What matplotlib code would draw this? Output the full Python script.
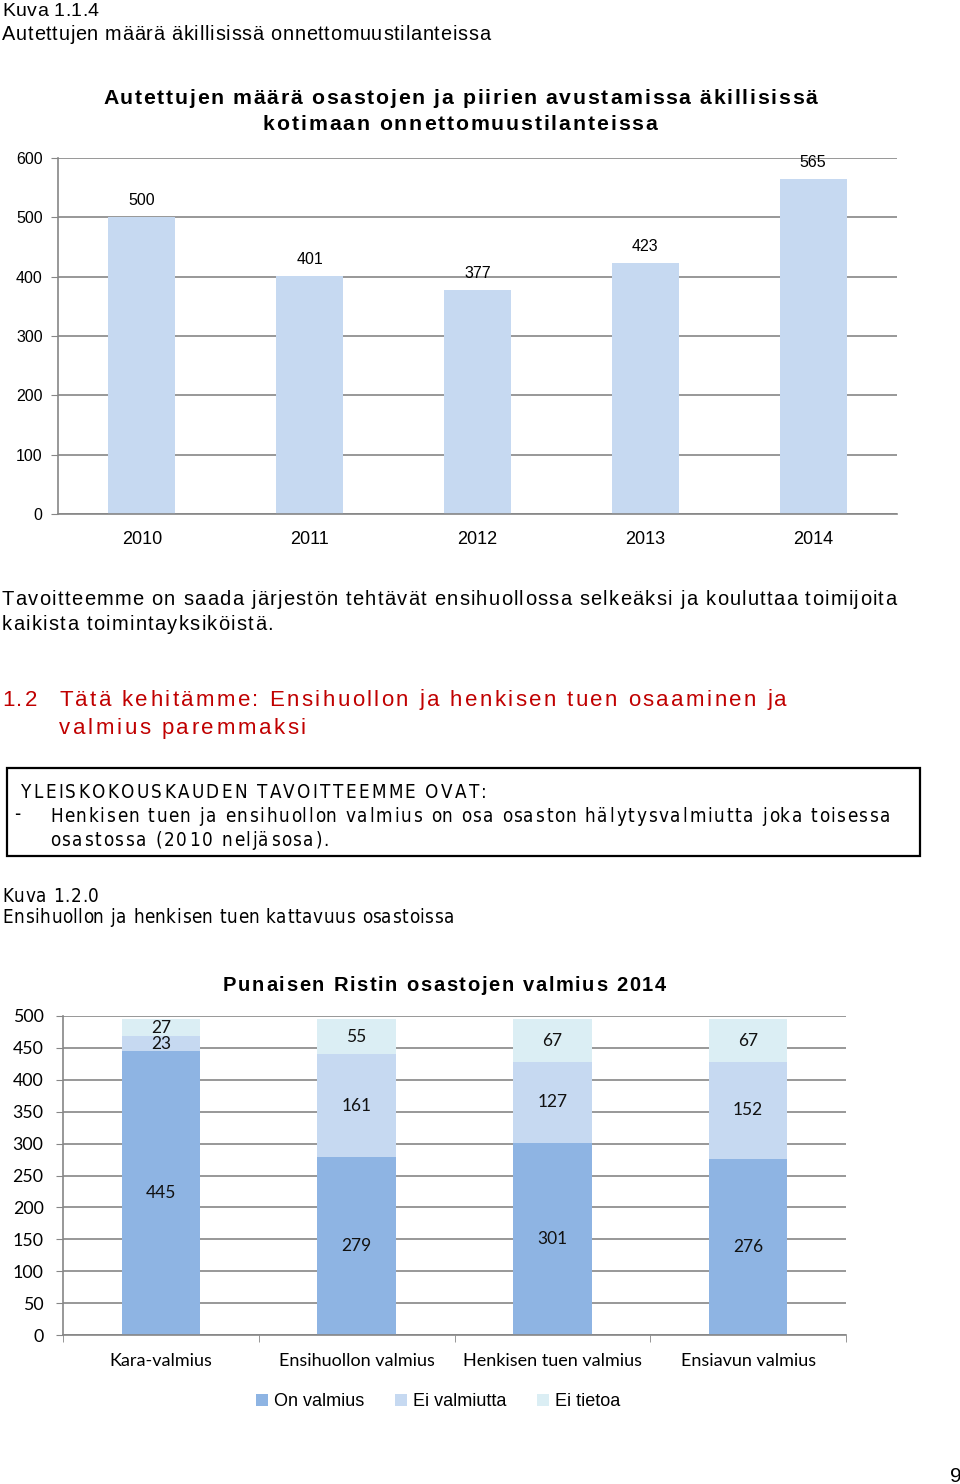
import matplotlib
matplotlib.use('Agg')
import matplotlib.pyplot as plt
from matplotlib.patches import Rectangle
from matplotlib.font_manager import FontProperties, findfont
import numpy as np

# ---------------- data ----------------
years = ['2010', '2011', '2012', '2013', '2014']
helped = [500, 401, 377, 423, 565]

categories = ['Kara-valmius', 'Ensihuollon valmius', 'Henkisen tuen valmius', 'Ensiavun valmius']
on_valmius = [445, 279, 301, 276]
ei_valmiutta = [23, 161, 127, 152]
ei_tietoa = [27, 55, 67, 67]
series_names = ['On valmius', 'Ei valmiutta', 'Ei tietoa']

# ---------------- figure ----------------
W, H = 960, 1484
fig = plt.figure(figsize=(W / 100, H / 100), dpi=100)
renderer = fig.canvas.get_renderer()
SANS = ['Liberation Sans', 'DejaVu Sans']
CAL = ['Lato', 'DejaVu Sans']
GRID = '#868686'
RED = '#C00000'

# condensed face for the boxed text (Arial Narrow look)
NARROW_FP = dict(family=['Roboto', 'Liberation Sans', 'DejaVu Sans'], stretch='normal')
try:
    f = findfont(FontProperties(family='Liberation Sans Narrow'), fallback_to_default=False)
    NARROW_FP = dict(family=['Liberation Sans Narrow', 'Liberation Sans'], stretch='normal')
except Exception:
    try:
        f = findfont(FontProperties(family='DejaVu Sans', stretch='condensed'), fallback_to_default=False)
        if 'ondensed' in f:
            NARROW_FP = dict(family=['DejaVu Sans'], stretch='condensed')
    except Exception:
        pass


def fx(x):
    return x / W


def fy(y):
    return 1 - y / H


def twidth(s, fp):
    return renderer.get_text_width_height_descent(s, fp, ismath=False)[0]


def stext(x, y, s, width, size, ha='left', family=SANS, weight='normal', color='black', stretch='normal'):
    """Letter-spaced text: baseline at y (px), spanning `width` px."""
    fp = FontProperties(family=family, size=size, weight=weight, stretch=stretch)
    base = twidth('xx', fp)
    adv = [twidth('x' + c + 'x', fp) - base for c in s]
    natural = sum(adv)
    sp = (width - natural) / (len(s) - 1) if len(s) > 1 else 0
    cur = x - width / 2 if ha == 'center' else x
    for c, a in zip(s, adv):
        if c != ' ':
            fig.text(fx(cur), fy(y), c, fontproperties=fp, ha='left', va='baseline', color=color)
        cur += a + sp


# ---------------- document text ----------------
stext(2, 16.5, 'Kuva 1.1.4', 97, 14)
stext(2, 40.5, 'Autettujen määrä äkillisissä onnettomuustilanteissa', 488, 14.3)
stext(460, 104.5, 'Autettujen määrä osastojen ja piirien avustamissa äkillisissä', 714, 15.3,
      ha='center', weight='bold')
stext(460, 129.5, 'kotimaan onnettomuustilanteissa', 394, 15.3, ha='center', weight='bold')

stext(2, 605, 'Tavoitteemme on saada järjestön tehtävät ensihuollossa selkeäksi ja kouluttaa toimijoita', 894, 14.5)
stext(2, 629.5, 'kaikista toimintayksiköistä.', 271, 14.5)

stext(2, 705.5, '1.2', 35, 16, color=RED)
stext(59, 705.5, 'Tätä kehitämme: Ensihuollon ja henkisen tuen osaaminen ja', 728, 16, color=RED)
stext(59, 734.5, 'valmius paremmaksi', 247, 16, color=RED)

fig.patches.append(Rectangle((fx(7), fy(856)), (920 - 7) / W, (856 - 768) / H,
                             transform=fig.transFigure, fill=False, edgecolor='black', lw=1.6))
stext(21, 797.5, 'YLEISKOKOUSKAUDEN TAVOITTEEMME OVAT:', 466, 13.5, **NARROW_FP)
stext(14, 820, '-', 5, 13.5, **NARROW_FP)
stext(50, 821.5, 'Henkisen tuen ja ensihuollon valmius on osa osaston hälytysvalmiutta joka toisessa', 840, 13.5,
      **NARROW_FP)
stext(50, 845.5, 'osastossa (2010 neljäsosa).', 279, 13.5, **NARROW_FP)

stext(2, 902, 'Kuva 1.2.0', 97, 13.5, **NARROW_FP)
stext(2, 923.5, 'Ensihuollon ja henkisen tuen kattavuus osastoissa', 452, 13.5, **NARROW_FP)
stext(444.5, 991, 'Punaisen Ristin osastojen valmius 2014', 443, 14.5, ha='center', weight='bold')

stext(950, 1482, '9', 11, 15)

# ---------------- chart 1 ----------------
ax1 = fig.add_axes([fx(58), fy(514), (897 - 58) / W, (514 - 158) / H])
x1 = np.arange(len(years))
ax1.bar(x1, helped, width=0.4, color='#C6D9F1', zorder=2)
ax1.set_xlim(-0.5, len(years) - 0.5)
ax1.set_ylim(0, 600)
ax1.set_yticks(np.arange(0, 601, 100))
ax1.set_xticks(x1)
ax1.set_xticklabels(years, family=SANS, fontsize=13)
for lbl in ax1.get_yticklabels():
    lbl.set_family(SANS)
ax1.tick_params(axis='y', length=5, color=GRID, labelsize=11.5, pad=6)
ax1.tick_params(axis='x', length=0, pad=12.5)
ax1.grid(axis='y', color=GRID, lw=1.2, zorder=0)
ax1.set_axisbelow(True)
for s in ['top', 'right']:
    ax1.spines[s].set_visible(False)
for s in ['left', 'bottom']:
    ax1.spines[s].set_color(GRID)
    ax1.spines[s].set_linewidth(1.2)
for xi, v in zip(x1, helped):
    ax1.annotate(str(v), (xi, v), xytext=(0, 12), textcoords='offset points',
                 ha='center', va='center', fontsize=11.5, family=SANS)

# ---------------- chart 2 ----------------
ax2 = fig.add_axes([fx(63), fy(1335), (846 - 63) / W, (1335 - 1016) / H])
x2 = np.arange(len(categories))
colors = ['#8EB4E3', '#C6D9F1', '#DBEEF4']
bottom = np.zeros(len(categories))
for name, vals, col in zip(series_names, [on_valmius, ei_valmiutta, ei_tietoa], colors):
    vals = np.array(vals, dtype=float)
    ax2.bar(x2, vals, width=0.4, bottom=bottom, color=col, label=name, zorder=2)
    for xi, b, v in zip(x2, bottom, vals):
        ax2.text(xi, b + v / 2, str(int(v)), ha='center', va='center',
                 fontsize=12.5, family=CAL, color='#111111', zorder=3)
    bottom += vals
ax2.set_xlim(-0.5, len(categories) - 0.5)
ax2.set_ylim(0, 500)
ax2.set_yticks(np.arange(0, 501, 50))
ax2.set_xticks(x2)
ax2.set_xticklabels(categories, family=CAL, fontsize=13)
for lbl in ax2.get_yticklabels():
    lbl.set_family(CAL)
ax2.set_xticks(np.arange(-0.5, len(categories), 1.0), minor=True)
ax2.tick_params(axis='y', length=5, color=GRID, labelsize=12.8, pad=9)
ax2.tick_params(axis='x', which='major', length=0, pad=13)
ax2.tick_params(axis='x', which='minor', length=5, color=GRID)
ax2.grid(axis='y', color=GRID, lw=1.2, zorder=0)
ax2.set_axisbelow(True)
for s in ['top', 'right']:
    ax2.spines[s].set_visible(False)
for s in ['left', 'bottom']:
    ax2.spines[s].set_color(GRID)
    ax2.spines[s].set_linewidth(1.2)

leg = ax2.legend(loc='center', bbox_to_anchor=(fx(438), fy(1402)), bbox_transform=fig.transFigure,
                 ncol=3, frameon=False, handlelength=0.65, handleheight=0.65, handletextpad=0.35,
                 columnspacing=1.7, prop={'family': SANS, 'size': 13})

fig.savefig('out.png', dpi=100)
